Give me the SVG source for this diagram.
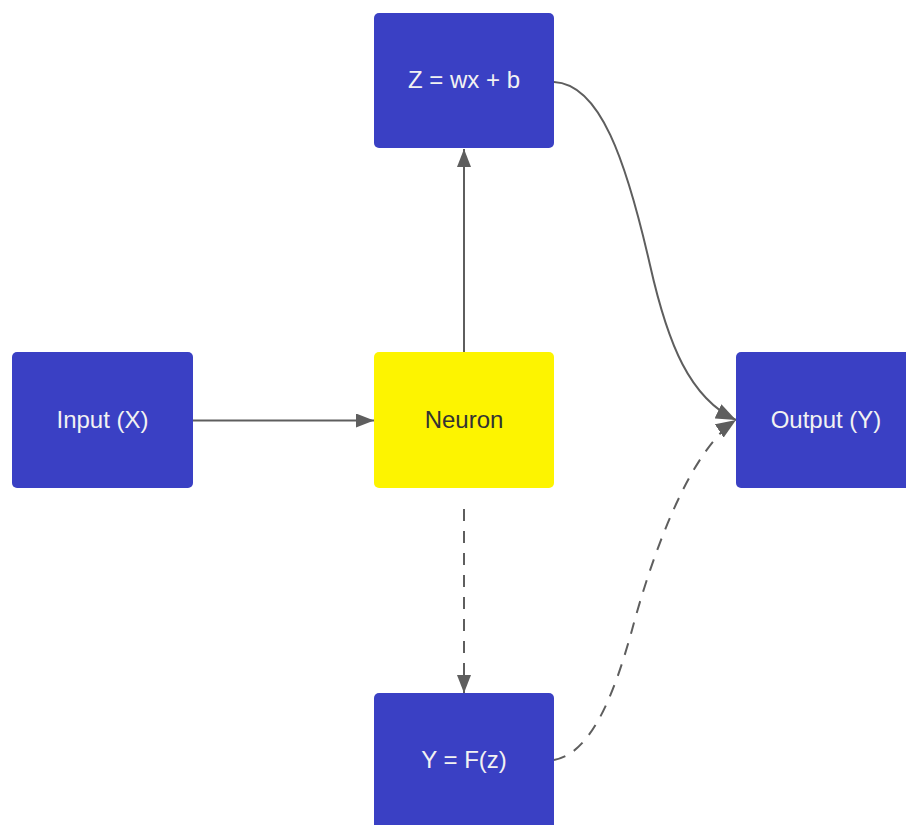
<svg xmlns="http://www.w3.org/2000/svg" width="906" height="825" viewBox="0 0 906 825">
  <style>
    .box { fill: #3a40c4; }
    .core { fill: #fdf400; }
    .label { font-family: "Liberation Sans", Arial, sans-serif; font-size: 24px; text-anchor: middle; fill: #f2f2f2; }
    .dark { fill: #333333; }
    .link { fill: none; stroke: #5e5e5e; stroke-width: 2; }
    .dash { stroke-dasharray: 12 10; }
  </style>
  <defs>
    <marker id="arrow" viewBox="0 0 18 14" refX="18" refY="7" markerWidth="18" markerHeight="14" markerUnits="userSpaceOnUse" orient="auto">
      <path d="M0,0 L18,7 L0,14 Z" fill="#5e5e5e"/>
    </marker>
    <marker id="arrow-lg" viewBox="0 0 20 16" refX="20" refY="8" markerWidth="20" markerHeight="16" markerUnits="userSpaceOnUse" orient="auto">
      <path d="M0,0 L20,8 L0,16 Z" fill="#5e5e5e"/>
    </marker>
  </defs>

  <rect width="906" height="825" fill="#ffffff"/>

  <g id="connectors">
    <path class="link" d="M193,420.5 L374,420.5" marker-end="url(#arrow)"/>
    <path class="link" d="M464,352 L464,149" marker-end="url(#arrow)"/>
    <path class="link dash" d="M464,509 L464,693" marker-end="url(#arrow)"/>
    <path class="link" d="M554,82 C600,84 626,160 650,265 C668,345 690,398 736,420" marker-end="url(#arrow-lg)"/>
    <path class="link dash" d="M554,760 C595,753 618,680 632,630 C652,555 690,450 736,420" marker-end="url(#arrow-lg)"/>
  </g>

  <g id="node-z">
    <rect class="box" x="374" y="13" width="180" height="135" rx="5"/>
    <text class="label" x="464" y="88">Z = wx + b</text>
  </g>

  <g id="node-input">
    <rect class="box" x="12" y="352" width="181" height="136" rx="5"/>
    <text class="label" x="102.5" y="428">Input (X)</text>
  </g>

  <g id="node-neuron">
    <rect class="core" x="374" y="352" width="180" height="136" rx="5"/>
    <text class="label dark" x="464" y="428">Neuron</text>
  </g>

  <g id="node-output">
    <rect class="box" x="736" y="352" width="180" height="136" rx="5"/>
    <text class="label" x="826" y="428">Output (Y)</text>
  </g>

  <g id="node-y">
    <rect class="box" x="374" y="693" width="180" height="136" rx="5"/>
    <text class="label" x="464" y="768">Y = F(z)</text>
  </g>
</svg>
